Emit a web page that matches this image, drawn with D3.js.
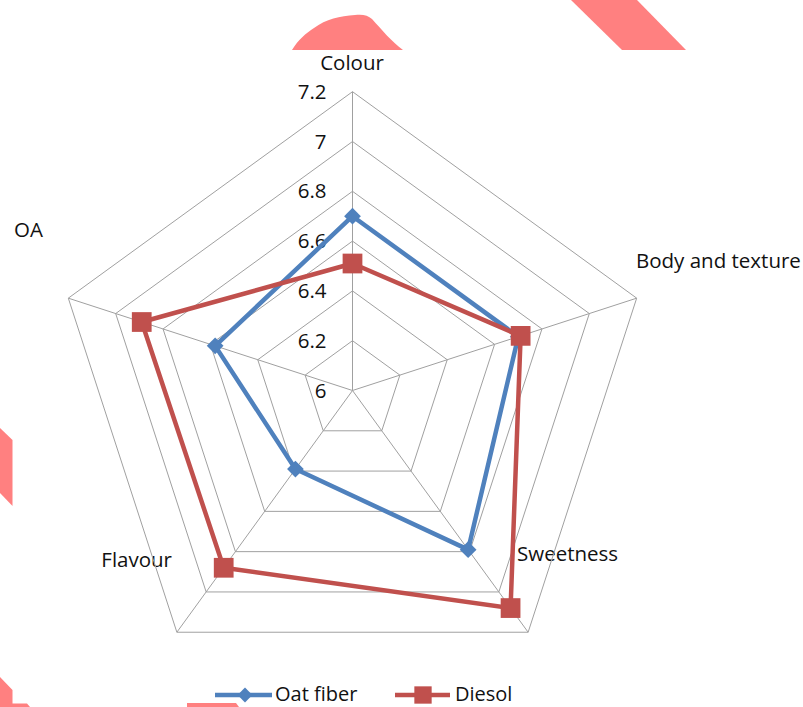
<!DOCTYPE html>
<html>
<head>
<meta charset="utf-8">
<script src="https://cdn.jsdelivr.net/npm/d3@7/dist/d3.min.js"></script>
<style>
  html, body { margin: 0; padding: 0; background: #fff; }
  svg { display: block; }
  text { font-family: "Open Sans", "Noto Sans", sans-serif; fill: #111; }
</style>
</head>
<body>
<script>
// Sensory scores per attribute
const categories = ["Colour", "Body and texture", "Sweetness", "Flavour", "OA"];
const oatFiber   = [6.70, 6.70, 6.79, 6.39, 6.58];
const diesol     = [6.51, 6.71, 7.08, 6.88, 6.89];
const tickValues = [6, 6.2, 6.4, 6.6, 6.8, 7, 7.2];
const tickLabels = ["6", "6.2", "6.4", "6.6", "6.8", "7", "7.2"];
const seriesNames = ["Oat fiber", "Diesol"];

// Layout
const W = 803, H = 707;
const cx = 352.5, cy = 390.5, R = 298.8;
const fontSize = 20.5;
const colors = ["#4F81BD", "#C0504D"];
// anchor points for the category labels
const labelLayout = [
  { x: 352, y: 62, anchor: "middle" },
  { x: 636, y: 260, anchor: "start" },
  { x: 517, y: 553, anchor: "start" },
  { x: 172, y: 559, anchor: "end" },
  { x: 14,  y: 229, anchor: "start" }
];

const svg = d3.select("body").append("svg")
  .attr("width", W).attr("height", H);

const r = d3.scaleLinear().domain([6, 7.2]).range([0, R]);
const angle = d3.scaleLinear().domain([0, categories.length]).range([0, 2 * Math.PI]);

function pt(i, v) {
  const a = angle(i);
  return [cx + r(v) * Math.sin(a), cy - r(v) * Math.cos(a)];
}

// category labels
svg.append("g").selectAll("text")
  .data(categories)
  .join("text")
  .attr("x", (d, i) => labelLayout[i].x)
  .attr("y", (d, i) => labelLayout[i].y)
  .attr("text-anchor", (d, i) => labelLayout[i].anchor)
  .attr("dominant-baseline", "central")
  .attr("font-size", fontSize)
  .text(d => d);

// grid rings
const grid = svg.append("g")
  .attr("fill", "none")
  .attr("stroke", "#a0a0a0")
  .attr("stroke-width", 1);

grid.selectAll("path.ring")
  .data(tickValues.slice(1))
  .join("path")
  .attr("class", "ring")
  .attr("d", v => d3.line()(categories.map((c, i) => pt(i, v))) + "Z");

// spokes
grid.selectAll("line.spoke")
  .data(categories)
  .join("line")
  .attr("class", "spoke")
  .attr("x1", cx).attr("y1", cy)
  .attr("x2", (d, i) => pt(i, 7.2)[0])
  .attr("y2", (d, i) => pt(i, 7.2)[1]);

// radial tick labels along the top spoke
svg.append("g").selectAll("text")
  .data(tickValues)
  .join("text")
  .attr("x", cx - 26)
  .attr("y", v => pt(0, v)[1] - 1)
  .attr("text-anchor", "end")
  .attr("dominant-baseline", "central")
  .attr("font-size", fontSize)
  .text((v, i) => tickLabels[i]);

// marker shapes: a square turned 45 degrees for the diamond, a plain square
const markerShapes = [
  { d: d3.symbol().type(d3.symbolSquare).size(140)(), rot: 45 },
  { d: d3.symbol().type(d3.symbolSquare).size(390)(), rot: 0 }
];

// series
const series = [oatFiber, diesol];
series.forEach((vals, s) => {
  const g = svg.append("g");
  g.append("path")
    .attr("d", d3.line()(vals.map((v, i) => pt(i, v))) + "Z")
    .attr("fill", "none")
    .attr("stroke", colors[s])
    .attr("stroke-width", 4.5)
    .attr("stroke-linejoin", "round");
  g.selectAll("path.m")
    .data(vals)
    .join("path")
    .attr("class", "m")
    .attr("transform", (v, i) => `translate(${pt(i, v)}) rotate(${markerShapes[s].rot})`)
    .attr("d", markerShapes[s].d)
    .attr("fill", colors[s]);
});

// legend
const legendItems = [
  { lx1: 215, lx2: 272, mx: 245, tx: 275, size: 110 },
  { lx1: 395, lx2: 450, mx: 423, tx: 455, size: 300 }
];
const ly = 695;
const legend = svg.append("g");
seriesNames.forEach((name, s) => {
  const it = legendItems[s];
  legend.append("line")
    .attr("x1", it.lx1).attr("x2", it.lx2)
    .attr("y1", ly).attr("y2", ly)
    .attr("stroke", colors[s]).attr("stroke-width", 4.5);
  legend.append("path")
    .attr("transform", `translate(${it.mx},${ly}) rotate(${markerShapes[s].rot})`)
    .attr("d", d3.symbol().type(d3.symbolSquare).size(it.size)())
    .attr("fill", colors[s]);
  legend.append("text")
    .attr("x", it.tx).attr("y", ly - 2)
    .attr("dominant-baseline", "central")
    .attr("font-size", 20)
    .text(name);
});

// pink overlay shapes along the edges
const overlays = [
  "M292,50 C298,40 306,33 314,28 C326,19 340,16 355,15 C362,14 368,15 372,19 C382,30 392,42 403,50 Z",
  "M571,0 L637,0 L686,50 L622,50 Z",
  "M0,428 L12.5,440 L12.5,506 L0,493 Z",
  "M0,677 L12.5,690 L12.5,703.5 L27,703.5 L30,707 L0,707 Z",
  "M187,703 L236,703 L239,707 L187,707 Z"
];
svg.append("g").selectAll("path")
  .data(overlays)
  .join("path")
  .attr("d", d => d)
  .attr("fill", "#FF8080");
</script>
</body>
</html>
